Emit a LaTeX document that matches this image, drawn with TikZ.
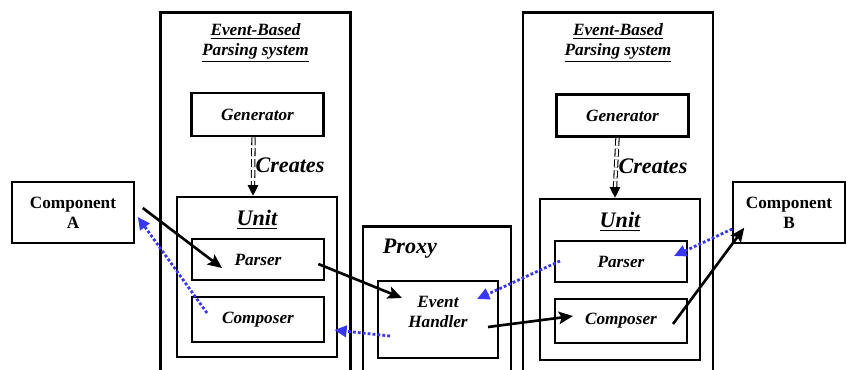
\documentclass[tikz,border=0pt]{standalone}
\usepackage{fontspec}
\setmainfont{Liberation Serif}
\usetikzlibrary{arrows.meta}
\definecolor{msgblue}{RGB}{55,55,245}
\begin{document}
\begin{tikzpicture}[
  every node/.style={font=\fontsize{9.8}{11.4}\selectfont\bfseries\itshape},
  box/.style={draw, line width=1.5pt, inner sep=0pt},
  sysbox/.style={box, anchor=north, minimum width=3.8cm, minimum height=8cm},
  comp/.style={draw, line width=0.9pt, align=center, minimum height=1.22cm, font=\fontsize{9.8}{11.4}\selectfont\bfseries},
  big/.style={font=\fontsize{12.6}{14}\selectfont\bfseries\itshape},
  flow/.style={line width=1.5pt, -{Stealth[length=8pt, width=7pt, inset=1.5pt]}},
  reply/.style={msgblue, line width=1.6pt, dash pattern=on 1.6pt off 1.2pt, -{Triangle[length=7pt, width=6.5pt]}},
  creates/.style={double, double distance=1.3pt, line width=0.6pt, dash pattern=on 4.5pt off 1.7pt}
]
\useasboundingbox (0,0) rectangle (16.92,7.38);
\clip (0,0) rectangle (16.92,7.38);
% the two parsing systems
\node[sysbox] (lsys) at (5.11,7.16) {};
\node[sysbox] (rsys) at (12.36,7.16) {};
\node[align=center] (ltitle) at ([yshift=-0.64cm]lsys.north) {\underline{Event-Based}\\\underline{Parsing system}};
\node[align=center] (rtitle) at ([yshift=-0.64cm]rsys.north) {\underline{Event-Based}\\\underline{Parsing system}};
\node[box, minimum width=2.64cm, minimum height=0.86cm] (lgen) at (5.15,5.09) {Generator};
\node[box, minimum width=2.64cm, minimum height=0.84cm] (rgen) at (12.45,5.07) {Generator};
\node[box, minimum width=3.2cm, minimum height=3.2cm] (lunit) at (5.14,1.84) {};
\node[box, minimum width=3.2cm, minimum height=3.22cm] (runit) at (12.40,1.79) {};
\node[big] (lunitlbl) at ([yshift=-0.48cm]lunit.north) {\underline{Unit}};
\node[big] (runitlbl) at ([yshift=-0.48cm]runit.north) {\underline{Unit}};
\node[box, minimum width=2.64cm, minimum height=0.82cm] (lparser) at (5.16,2.19) {Parser};
\node[box, minimum width=2.64cm, minimum height=0.9cm] (lcomposer) at (5.16,0.99) {Composer};
\node[box, minimum width=2.64cm, minimum height=0.82cm] (rparser) at (12.42,2.15) {Parser};
\node[box, minimum width=2.64cm, minimum height=0.88cm] (rcomposer) at (12.42,0.96) {Composer};
% generator creates unit
\draw[creates] ([xshift=-0.08cm]lgen.south) -- ([xshift=-0.08cm, yshift=0.2cm]lunit.north) node[midway, right, big, inner sep=1pt, yshift=-2pt] {Creates};
\draw[-{Triangle[length=6pt, width=6pt]}, line width=0.6pt] ([xshift=-0.08cm, yshift=0.22cm]lunit.north) -- ([xshift=-0.08cm]lunit.north);
\draw[creates] ([xshift=-0.1cm]rgen.south) -- ([xshift=-0.1cm, yshift=0.2cm]runit.north) node[midway, right, big, inner sep=1pt, yshift=-2pt] {Creates};
\draw[-{Triangle[length=6pt, width=6pt]}, line width=0.6pt] ([xshift=-0.1cm, yshift=0.22cm]runit.north) -- ([xshift=-0.1cm]runit.north);
% components and proxy
\node[comp, minimum width=2.44cm] (compA) at (1.46,3.13) {Component\\A};
\node[comp, minimum width=2.24cm] (compB) at (15.78,3.13) {Component\\B};
\node[box, anchor=north, minimum width=2.96cm, minimum height=4cm] (proxy) at (8.74,2.88) {};
\node[big, anchor=west] (proxylbl) at ([xshift=0.3cm, yshift=-0.47cm]proxy.north west) {Proxy};
\node[box, minimum width=2.4cm, minimum height=1.54cm, label={[align=center, yshift=0.16cm]center:{Event\\Handler}}] (handler) at (8.76,0.99) {};
% messages
\draw[flow] ([shift={(0.16,0.09)}]compA.east) -- ([shift={(-0.72,-0.17)}]lparser.center);
\draw[flow] ([shift={(-0.14,-0.09)}]lparser.east) -- ([shift={(-0.72,0.43)}]handler.center);
\draw[flow] ([shift={(1.0,-0.15)}]handler.center) -- ([shift={(-0.96,0.10)}]rcomposer.center);
\draw[flow] ([shift={(1.04,-0.06)}]rcomposer.center) -- ([shift={(0.24,0.32)}]compB.south west);
\draw[reply] ([shift={(0,-0.33)}]compB.west) -- ([shift={(1.06,0.11)}]rparser.center);
\draw[reply] ([shift={(-1.22,0.01)}]rparser.center) -- ([shift={(0.78,0.41)}]handler.center);
\draw[reply] ([shift={(-0.96,-0.33)}]handler.center) -- ([shift={(0.18,-0.21)}]lcomposer.east);
\draw[reply] ([shift={(-1.02,0.13)}]lcomposer.center) -- ([shift={(0.06,-0.09)}]compA.east);
\end{tikzpicture}
\end{document}
